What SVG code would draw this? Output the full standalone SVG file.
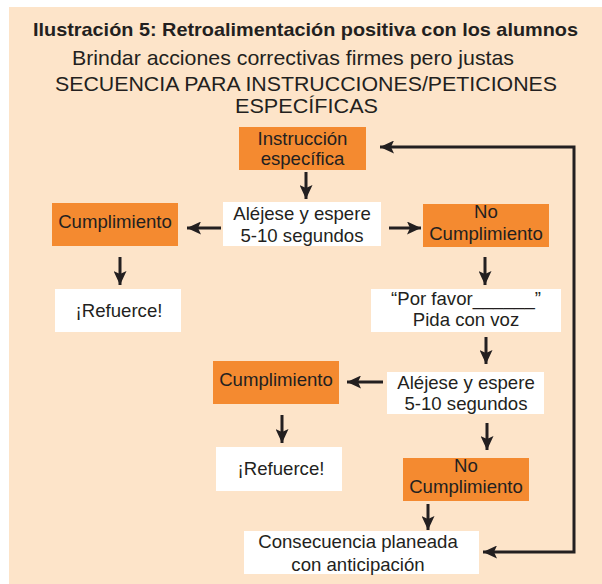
<svg xmlns="http://www.w3.org/2000/svg" width="602" height="584" viewBox="0 0 602 584">
<style>
.bg{fill:#FDE4C9}
.o{fill:#F48A30}
.w{fill:#FFFFFF}
text{font-family:"Liberation Sans",Arial,sans-serif;fill:#231F20;text-anchor:middle}
.t{font-size:18.6px}
.h{font-size:19px;font-weight:bold}
.s{font-size:21px}
.c{stroke:#231F20;stroke-width:3;fill:none}
</style>
<defs>
<marker id="ah" markerUnits="userSpaceOnUse" markerWidth="15" markerHeight="13" refX="14" refY="6.5" orient="auto">
<path d="M0,0 L14,6.5 L0,13 L3,6.5 Z" fill="#231F20"/>
</marker>
<marker id="ahs" markerUnits="userSpaceOnUse" markerWidth="15" markerHeight="13" refX="14" refY="6.5" orient="auto-start-reverse">
<path d="M0,0 L14,6.5 L0,13 L3,6.5 Z" fill="#231F20"/>
</marker>
</defs>
<rect class="bg" x="9" y="7" width="593" height="577"/>
<g id="header">
<text class="h" x="305.5" y="36" textLength="545" lengthAdjust="spacingAndGlyphs">Ilustración 5: Retroalimentación positiva con los alumnos</text>
<text class="s" x="293" y="65" textLength="442" lengthAdjust="spacingAndGlyphs">Brindar acciones correctivas firmes pero justas</text>
<text class="s" x="306" y="90.5" textLength="502" lengthAdjust="spacingAndGlyphs">SECUENCIA PARA INSTRUCCIONES/PETICIONES</text>
<text class="s" x="306.5" y="113" textLength="143" lengthAdjust="spacingAndGlyphs">ESPECÍFICAS</text>
</g>
<g id="connectors">
<line class="c" x1="306" y1="172" x2="306" y2="199" marker-end="url(#ah)"/>
<line class="c" x1="221" y1="228" x2="187" y2="228" marker-end="url(#ah)"/>
<line class="c" x1="389" y1="228" x2="421" y2="228" marker-end="url(#ah)"/>
<line class="c" x1="120" y1="257" x2="120" y2="285" marker-end="url(#ah)"/>
<line class="c" x1="485" y1="257" x2="485" y2="285" marker-end="url(#ah)"/>
<line class="c" x1="486" y1="337" x2="486" y2="364" marker-end="url(#ah)"/>
<line class="c" x1="383" y1="382" x2="347" y2="382" marker-end="url(#ah)"/>
<line class="c" x1="282" y1="415" x2="282" y2="443" marker-end="url(#ah)"/>
<line class="c" x1="487" y1="423" x2="487" y2="450" marker-end="url(#ah)"/>
<line class="c" x1="428" y1="504" x2="428" y2="530" marker-end="url(#ah)"/>
<polyline class="c" points="483,552 574,552 574,147 380,147" marker-start="url(#ahs)" marker-end="url(#ah)"/>
</g>
<g id="n-instruccion">
<rect class="o" x="239" y="127" width="127" height="43"/>
<text class="t" x="302.5" y="145">Instrucción</text>
<text class="t" x="302.5" y="165">específica</text>
</g>
<g id="n-aleje1">
<rect class="w" x="223" y="202" width="158" height="44"/>
<text class="t" x="302" y="220">Aléjese y espere</text>
<text class="t" x="302" y="242">5-10 segundos</text>
</g>
<g id="n-cumpl1">
<rect class="o" x="52" y="203" width="126" height="43"/>
<text class="t" x="115" y="228">Cumplimiento</text>
</g>
<g id="n-nocumpl1">
<rect class="o" x="423" y="204" width="126" height="43"/>
<text class="t" x="486" y="218">No</text>
<text class="t" x="486" y="240">Cumplimiento</text>
</g>
<g id="n-refuerce1">
<rect class="w" x="55" y="289" width="126" height="43"/>
<text class="t" x="119" y="317">¡Refuerce!</text>
</g>
<g id="n-porfavor">
<rect class="w" x="371" y="289" width="190" height="43"/>
<text class="t" x="466" y="305">“Por favor______”</text>
<text class="t" x="466" y="326">Pida con voz</text>
</g>
<g id="n-cumpl2">
<rect class="o" x="213" y="361" width="126" height="43"/>
<text class="t" x="276" y="386">Cumplimiento</text>
</g>
<g id="n-aleje2">
<rect class="w" x="387" y="372" width="157" height="42"/>
<text class="t" x="466" y="389">Aléjese y espere</text>
<text class="t" x="466" y="410">5-10 segundos</text>
</g>
<g id="n-refuerce2">
<rect class="w" x="216" y="447" width="126" height="44"/>
<text class="t" x="281" y="475">¡Refuerce!</text>
</g>
<g id="n-nocumpl2">
<rect class="o" x="403" y="458" width="126" height="43"/>
<text class="t" x="466" y="472">No</text>
<text class="t" x="466" y="493">Cumplimiento</text>
</g>
<g id="n-consecuencia">
<rect class="w" x="244" y="531" width="235" height="43"/>
<text class="t" x="358" y="548">Consecuencia planeada</text>
<text class="t" x="358" y="571">con anticipación</text>
</g>
</svg>
